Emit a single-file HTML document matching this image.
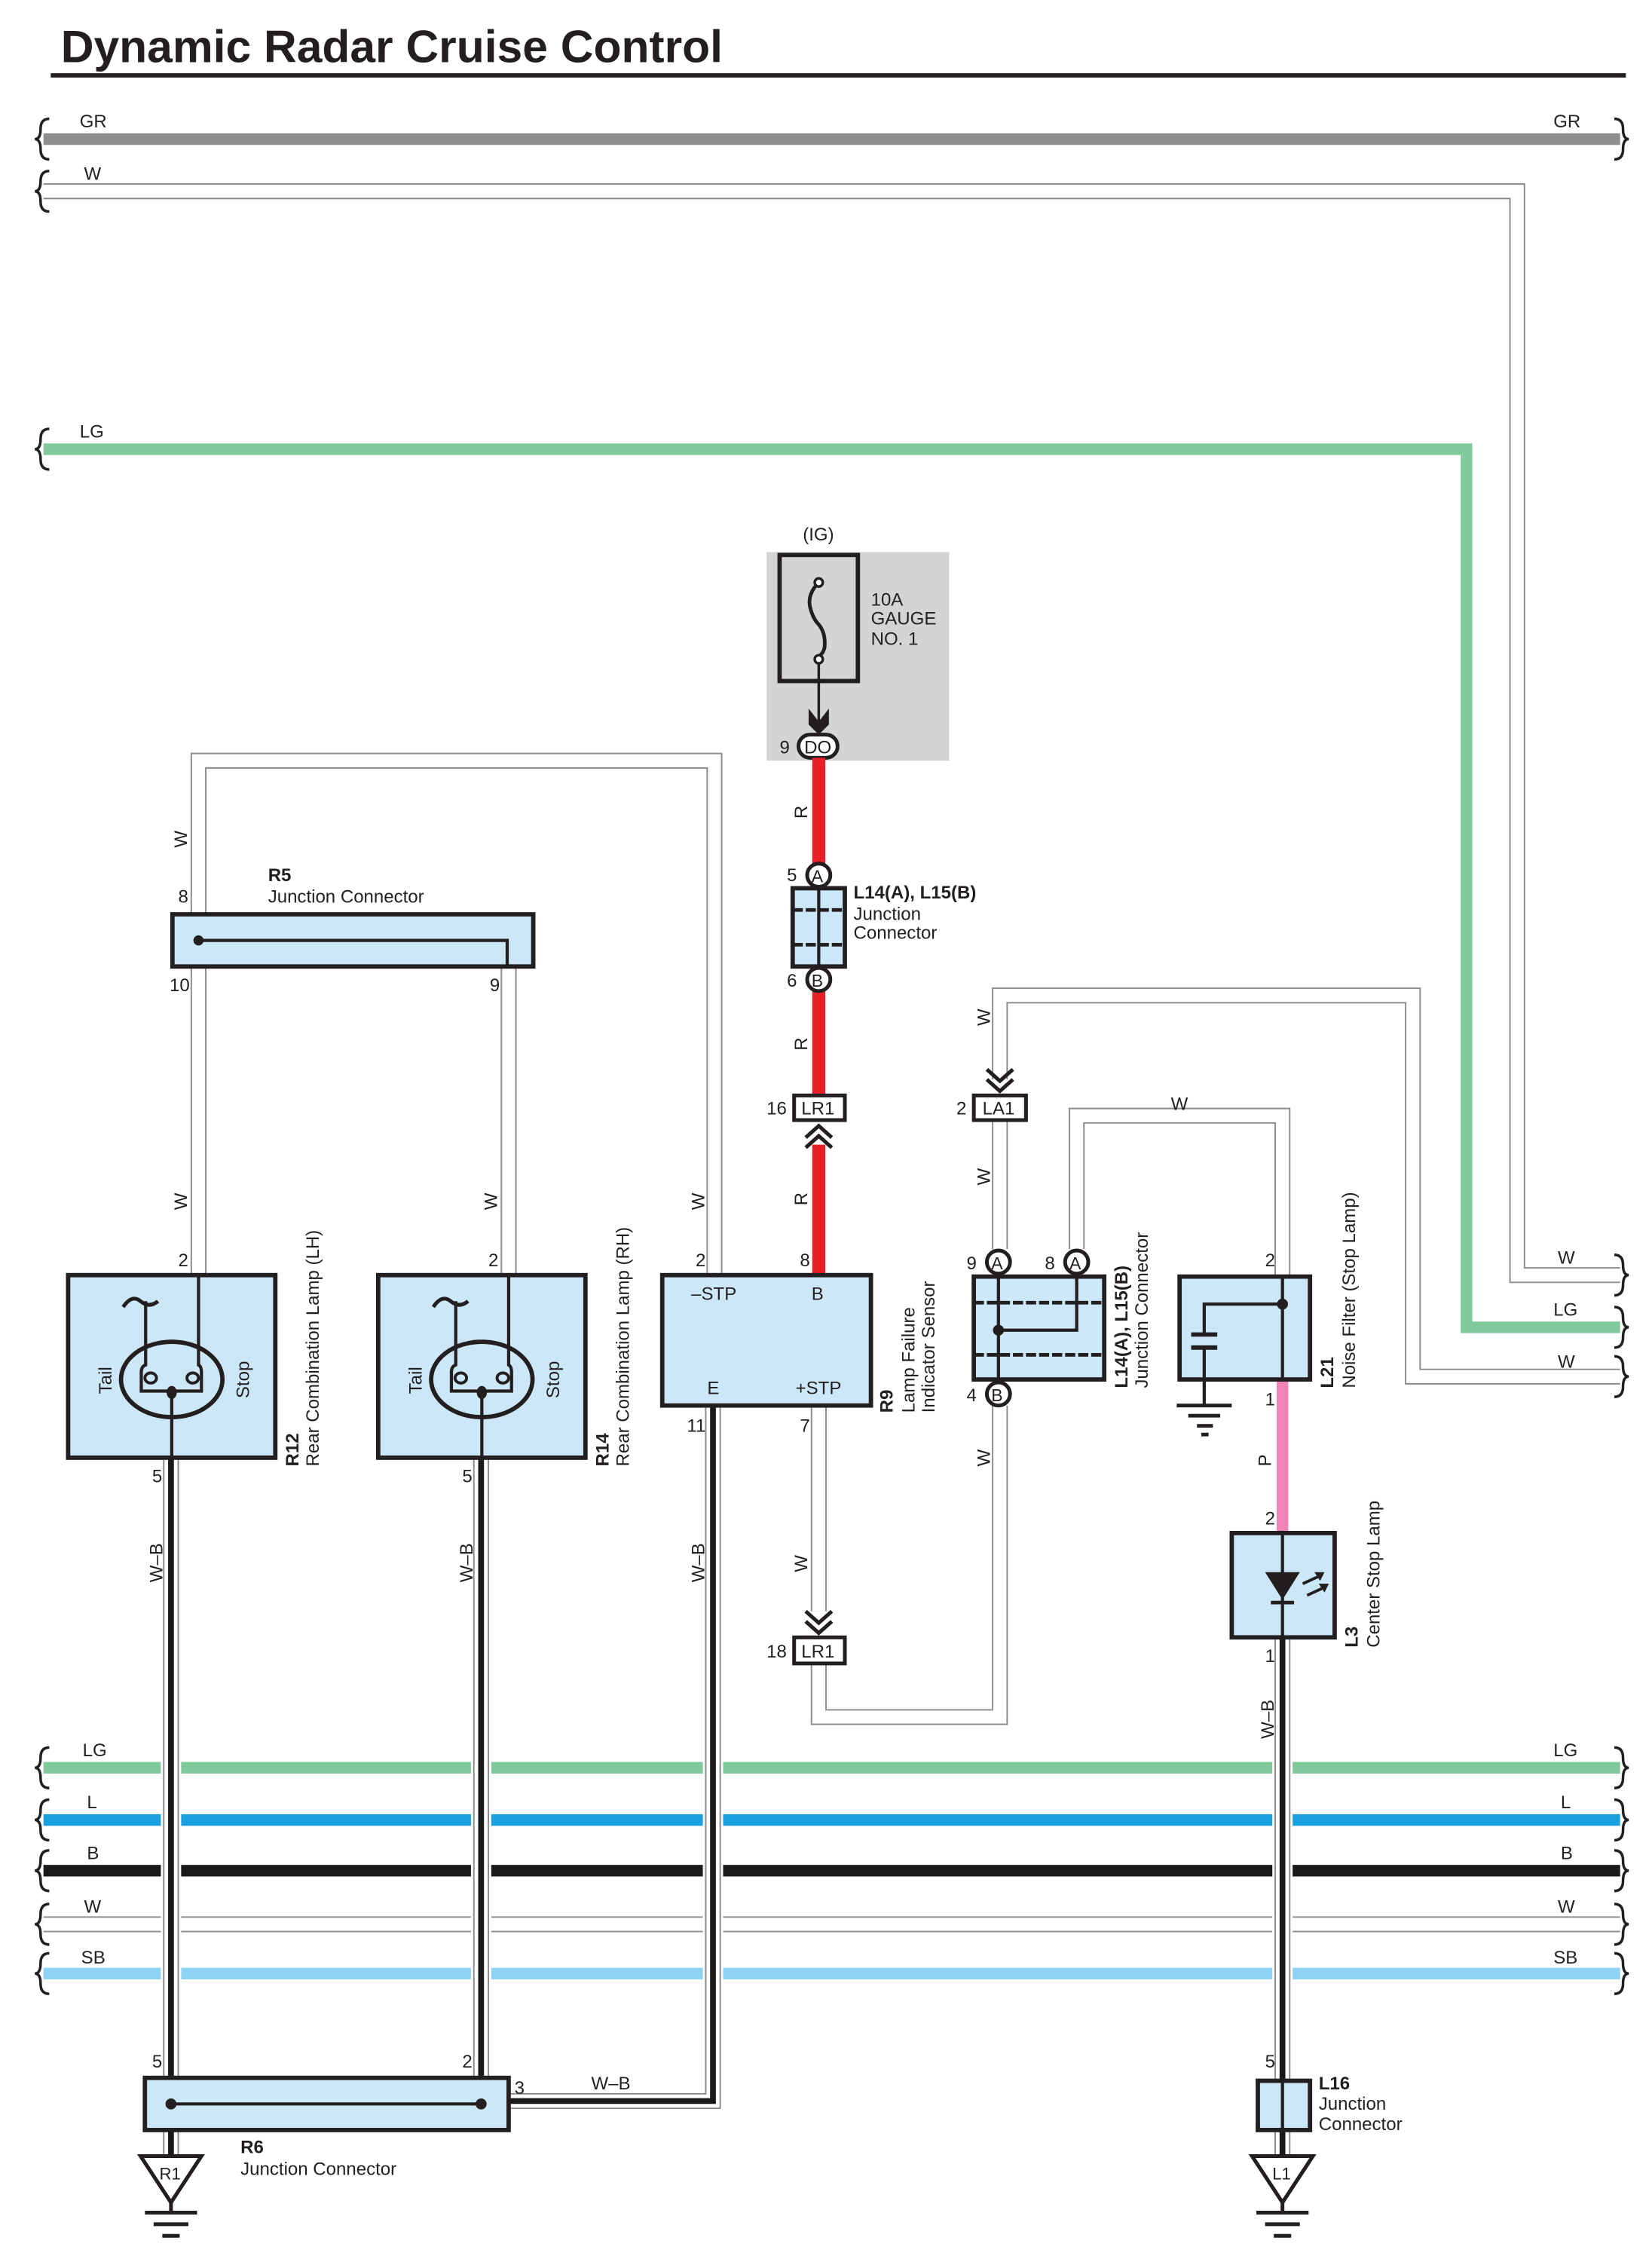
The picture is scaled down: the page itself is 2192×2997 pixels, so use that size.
<!DOCTYPE html>
<html><head><meta charset="utf-8"><style>
html,body{margin:0;padding:0;background:#fff}
svg{display:block}
text{font-family:"Liberation Sans",sans-serif;font-size:12.5px;fill:#231f20}
.b{font-weight:bold}
.w1{fill:none;stroke:#8a8a8a;stroke-width:11}
.w2{fill:none;stroke:#fff;stroke-width:9}
.wb{fill:none;stroke:#1a1a1a;stroke-width:4}
.gap{fill:none;stroke:#fff;stroke-width:14}
.box{fill:#cce8f8;stroke:#231f20;stroke-width:3}
.k{fill:none;stroke:#231f20;stroke-width:2.2}
.dash{fill:none;stroke:#231f20;stroke-width:2.5;stroke-dasharray:7 2}
.circ{fill:#fff;stroke:#231f20;stroke-width:2.6}
</style></head><body>
<svg width="2192" height="2997" viewBox="0 0 1140 1559" preserveAspectRatio="none" xmlns="http://www.w3.org/2000/svg">
<text x="42" y="43" class="b" style="font-size:31.5px">Dynamic Radar Cruise Control</text>
<line x1="35" y1="52" x2="1122" y2="52" stroke="#231f20" stroke-width="3"/>

<!-- top buses -->
<line x1="30" y1="96" x2="1118" y2="96" stroke="#8e8e90" stroke-width="8"/>
<text x="55" y="88">GR</text><text x="1072" y="88">GR</text>
<path class="w1" d="M30,132 H1047 V880 H1118"/><path class="w2" d="M30,132 H1047 V880 H1118"/>
<text x="58" y="124">W</text><text x="1075" y="872">W</text>
<path d="M30,310 H1012 V916 H1118" fill="none" stroke="#80c99a" stroke-width="8"/>
<text x="55" y="302">LG</text><text x="1072" y="908">LG</text>
<path class="w1" d="M1118,950 H975 V687 H690 V745"/><path class="w2" d="M1118,950 H975 V687 H690 V745"/>
<text x="1075" y="944">W</text>
<text transform="translate(683,708) rotate(-90)">W</text>

<!-- bottom buses -->
<line x1="30" y1="1220" x2="1118" y2="1220" stroke="#80c99a" stroke-width="8"/>
<line x1="30" y1="1256" x2="1118" y2="1256" stroke="#1aa0de" stroke-width="8"/>
<line x1="30" y1="1291" x2="1118" y2="1291" stroke="#1a1a1a" stroke-width="8"/>
<line x1="30" y1="1328" x2="1118" y2="1328" class="w1"/><line x1="30" y1="1328" x2="1118" y2="1328" class="w2"/>
<line x1="30" y1="1362" x2="1118" y2="1362" stroke="#8fd3f4" stroke-width="8"/>
<text x="57" y="1212">LG</text><text x="1072" y="1212">LG</text>
<text x="60" y="1248">L</text><text x="1077" y="1248">L</text>
<text x="60" y="1283">B</text><text x="1077" y="1283">B</text>
<text x="58" y="1320">W</text><text x="1075" y="1320">W</text>
<text x="56" y="1355">SB</text><text x="1072" y="1355">SB</text>

<!-- braces -->
<g fill="none" stroke="#231f20" stroke-width="1.8">
<path d="M34,82 q-6,0 -6,7 q0,7 -4,7 q4,0 4,7 q0,7 6,7"/>
<path d="M34,118 q-6,0 -6,7 q0,7 -4,7 q4,0 4,7 q0,7 6,7"/>
<path d="M34,296 q-6,0 -6,7 q0,7 -4,7 q4,0 4,7 q0,7 6,7"/>
<path d="M34,1206 q-6,0 -6,7 q0,7 -4,7 q4,0 4,7 q0,7 6,7"/>
<path d="M34,1242 q-6,0 -6,7 q0,7 -4,7 q4,0 4,7 q0,7 6,7"/>
<path d="M34,1277 q-6,0 -6,7 q0,7 -4,7 q4,0 4,7 q0,7 6,7"/>
<path d="M34,1314 q-6,0 -6,7 q0,7 -4,7 q4,0 4,7 q0,7 6,7"/>
<path d="M34,1348 q-6,0 -6,7 q0,7 -4,7 q4,0 4,7 q0,7 6,7"/>
<path d="M1114,82 q6,0 6,7 q0,7 4,7 q-4,0 -4,7 q0,7 -6,7"/>
<path d="M1114,866 q6,0 6,7 q0,7 4,7 q-4,0 -4,7 q0,7 -6,7"/>
<path d="M1114,902 q6,0 6,7 q0,7 4,7 q-4,0 -4,7 q0,7 -6,7"/>
<path d="M1114,936 q6,0 6,7 q0,7 4,7 q-4,0 -4,7 q0,7 -6,7"/>
<path d="M1114,1206 q6,0 6,7 q0,7 4,7 q-4,0 -4,7 q0,7 -6,7"/>
<path d="M1114,1242 q6,0 6,7 q0,7 4,7 q-4,0 -4,7 q0,7 -6,7"/>
<path d="M1114,1277 q6,0 6,7 q0,7 4,7 q-4,0 -4,7 q0,7 -6,7"/>
<path d="M1114,1314 q6,0 6,7 q0,7 4,7 q-4,0 -4,7 q0,7 -6,7"/>
<path d="M1114,1348 q6,0 6,7 q0,7 4,7 q-4,0 -4,7 q0,7 -6,7"/>
</g>

<!-- gaps for crossing wires -->
<path class="gap" d="M118,1200 V1380 M332,1200 V1380 M492,1200 V1380 M885,1200 V1380"/>

<!-- W wires -->
<path class="w1" d="M493,880 V525 H137 V631 M137,667 V880 M351,667 V880"/>
<path class="w2" d="M493,880 V525 H137 V631 M137,667 V880 M351,667 V880"/>
<path class="w1" d="M565,970 V1112 M565,1148 V1185 H690 V970 M690,773 V862 M743,862 V770 H885 V880"/>
<path class="w2" d="M565,970 V1112 M565,1148 V1185 H690 V970 M690,773 V862 M743,862 V770 H885 V880"/>
<!-- W-B wires -->
<path class="w1" d="M118,1006 V1434 M332,1006 V1434 M492,970 V1450 H351 M885,1130 V1436 M118,1470 V1488 M885,1470 V1488"/>
<path class="w2" d="M118,1006 V1434 M332,1006 V1434 M492,970 V1450 H351 M885,1130 V1436 M118,1470 V1488 M885,1470 V1488"/>
<path class="wb" d="M118,1006 V1434 M332,1006 V1434 M492,970 V1450 H351 M885,1130 V1436 M118,1470 V1488 M885,1470 V1488"/>

<!-- wire labels -->
<text transform="translate(129,585) rotate(-90)">W</text>
<text transform="translate(129,835) rotate(-90)">W</text>
<text transform="translate(343,835) rotate(-90)">W</text>
<text transform="translate(486,835) rotate(-90)">W</text>
<text transform="translate(112,1092) rotate(-90)">W–B</text>
<text transform="translate(326,1092) rotate(-90)">W–B</text>
<text transform="translate(486,1092) rotate(-90)">W–B</text>
<text transform="translate(879,1200) rotate(-90)">W–B</text>
<text transform="translate(557,1085) rotate(-90)">W</text>
<text transform="translate(683,1012) rotate(-90)">W</text>
<text transform="translate(683,818) rotate(-90)">W</text>
<text x="808" y="766">W</text>
<text x="408" y="1442">W–B</text>

<!-- fuse -->
<rect x="529" y="381" width="126" height="144" fill="#d3d4d6"/>
<rect x="538" y="383" width="54" height="87" fill="none" stroke="#231f20" stroke-width="3"/>
<path d="M565,402 q-8,8 -6,17 q2,8 6,12 q5,6 4,16 q-1,4 -4,6" fill="none" stroke="#231f20" stroke-width="2.5"/>
<circle cx="565" cy="402" r="2.8" fill="#fff" stroke="#231f20" stroke-width="1.8"/>
<circle cx="565" cy="455" r="2.8" fill="#fff" stroke="#231f20" stroke-width="1.8"/>
<line x1="565" y1="458" x2="565" y2="500" stroke="#231f20" stroke-width="1.8"/>
<path d="M558,489 L565,498 L572,489 L572,500 L565,507 L558,500 Z" fill="#231f20"/>
<rect x="551" y="507" width="27" height="16" rx="8" fill="#fff" stroke="#231f20" stroke-width="2.6"/>
<text x="555" y="520">DO</text><text x="538" y="520">9</text>
<text x="554" y="373">(IG)</text>
<text x="601" y="418">10A</text><text x="601" y="431">GAUGE</text><text x="601" y="445">NO. 1</text>

<!-- red wire -->
<path d="M565,523 V596 M565,684 V756 M565,790 V880" stroke="#e8202a" stroke-width="9" fill="none"/>
<text transform="translate(557,565) rotate(-90)">R</text>
<text transform="translate(557,725) rotate(-90)">R</text>
<text transform="translate(557,832) rotate(-90)">R</text>
<path d="M556,785 L565,777 L574,785 M556,792 L565,784 L574,792" fill="none" stroke="#231f20" stroke-width="2.6"/>

<!-- L14/L15 top junction -->
<rect x="547" y="613" width="36" height="54" class="box"/>
<line x1="547" y1="628" x2="583" y2="628" class="dash"/><line x1="547" y1="652" x2="583" y2="652" class="dash"/>
<line x1="565" y1="613" x2="565" y2="667" class="k"/>
<circle cx="565" cy="604" r="8" class="circ"/><text x="560" y="609" style="font-size:12px">A</text>
<circle cx="565" cy="676" r="8" class="circ"/><text x="560" y="681" style="font-size:12px">B</text>
<text x="543" y="608">5</text><text x="543" y="681">6</text>
<text x="589" y="620" class="b">L14(A), L15(B)</text><text x="589" y="635">Junction</text><text x="589" y="648">Connector</text>

<!-- LR1 16 -->
<rect x="548" y="756" width="35" height="17" fill="#fff" stroke="#231f20" stroke-width="2.6"/>
<text x="553" y="769">LR1</text><text x="529" y="769">16</text>
<!-- LR1 18 -->
<path d="M556,1112 L565,1120 L574,1112 M556,1119 L565,1127 L574,1119" fill="none" stroke="#231f20" stroke-width="2.6"/>
<rect x="548" y="1130" width="35" height="18" fill="#fff" stroke="#231f20" stroke-width="2.6"/>
<text x="553" y="1144">LR1</text><text x="529" y="1144">18</text>
<!-- LA1 -->
<path d="M681,738 L690,746 L699,738 M681,745 L690,753 L699,745" fill="none" stroke="#231f20" stroke-width="2.6"/>
<rect x="672" y="756" width="36" height="17" fill="#fff" stroke="#231f20" stroke-width="2.6"/>
<text x="678" y="769">LA1</text><text x="660" y="769">2</text>

<!-- R5 -->
<rect x="119" y="631" width="249" height="36" class="box"/>
<path d="M137,649 H350 V667" class="k"/><circle cx="137" cy="649" r="3.5" fill="#231f20"/>
<text x="185" y="608" class="b">R5</text><text x="185" y="623">Junction Connector</text>
<text x="123" y="623">8</text><text x="117" y="684">10</text><text x="338" y="684">9</text>

<!-- R12 / R14 -->
<g id="lamp">
<rect x="47" y="880" width="143" height="126" class="box"/>
<ellipse cx="118.5" cy="952" rx="35" ry="26" fill="none" stroke="#231f20" stroke-width="3"/>
<path d="M85,902 q6,-9 12,-4 q6,5 12,0" fill="none" stroke="#231f20" stroke-width="2.6"/>
<path d="M100.5,898 V942 q-3,1 -3,5 V960 H139 V947 q0,-4 -2,-5 V880" class="k"/>
<ellipse cx="104" cy="951" rx="4" ry="3.5" fill="none" stroke="#231f20" stroke-width="2"/>
<ellipse cx="133" cy="951" rx="4" ry="3.5" fill="none" stroke="#231f20" stroke-width="2"/>
<ellipse cx="118.5" cy="961" rx="3.5" ry="4.5" fill="#231f20"/>
<line x1="118.5" y1="961" x2="118.5" y2="1006" class="k"/>
<text transform="translate(77,962) rotate(-90)">Tail</text>
<text transform="translate(172,965) rotate(-90)">Stop</text>
</g>
<use href="#lamp" x="214"/>
<text x="123" y="874">2</text><text x="337" y="874">2</text>
<text x="105" y="1023">5</text><text x="319" y="1023">5</text>
<text transform="translate(206,1012) rotate(-90)" class="b">R12</text>
<text transform="translate(220,1012) rotate(-90)">Rear Combination Lamp (LH)</text>
<text transform="translate(420,1012) rotate(-90)" class="b">R14</text>
<text transform="translate(434,1012) rotate(-90)">Rear Combination Lamp (RH)</text>

<!-- R9 -->
<rect x="457" y="880" width="144" height="90" class="box"/>
<text x="477" y="897">–STP</text><text x="560" y="897">B</text>
<text x="488" y="962">E</text><text x="549" y="962">+STP</text>
<text x="480" y="874">2</text><text x="552" y="874">8</text>
<text x="474" y="988">11</text><text x="552" y="988">7</text>
<text transform="translate(616,975) rotate(-90)" class="b">R9</text>
<text transform="translate(631,975) rotate(-90)">Lamp Failure</text>
<text transform="translate(645,975) rotate(-90)">Indicator Sensor</text>

<!-- L14/L15 right -->
<rect x="672" y="881" width="90" height="71" class="box"/>
<line x1="672" y1="899" x2="762" y2="899" class="dash"/><line x1="672" y1="935" x2="762" y2="935" class="dash"/>
<path d="M689,881 V952 M689,918 H743 V881" class="k"/><circle cx="689" cy="918" r="3.8" fill="#231f20"/>
<circle cx="689" cy="871" r="8" class="circ"/><text x="684" y="876" style="font-size:12px">A</text>
<circle cx="743" cy="871" r="8" class="circ"/><text x="738" y="876" style="font-size:12px">A</text>
<circle cx="689" cy="962" r="8" class="circ"/><text x="684" y="967" style="font-size:12px">B</text>
<text x="667" y="876">9</text><text x="721" y="876">8</text><text x="667" y="967">4</text>
<text transform="translate(778,958) rotate(-90)" class="b">L14(A), L15(B)</text>
<text transform="translate(792,958) rotate(-90)">Junction Connector</text>

<!-- L21 -->
<path d="M885,952 V1058" stroke="#f183b6" stroke-width="8" fill="none"/>
<text transform="translate(877,1012) rotate(-90)">P</text>
<rect x="814" y="881" width="90" height="71" class="box"/>
<path d="M885,881 V952 M885,900 H831 V921 M831,931 V970" class="k"/><circle cx="885" cy="900" r="3.8" fill="#231f20"/>
<path d="M822,921 H840 M822,930 H840" stroke="#231f20" stroke-width="3"/>
<path d="M812,970 H850 M820,977 H842 M826,984 H837 M829,990 H834" stroke="#231f20" stroke-width="2.5"/>
<text x="873" y="874">2</text><text x="873" y="970">1</text>
<text transform="translate(920,958) rotate(-90)" class="b">L21</text>
<text transform="translate(935,958) rotate(-90)">Noise Filter (Stop Lamp)</text>

<!-- L3 -->
<rect x="850" y="1058" width="71" height="72" class="box"/>
<line x1="885" y1="1058" x2="885" y2="1130" class="k"/>
<path d="M873,1085 H897 L885,1104 Z" fill="#231f20"/>
<path d="M877,1106 H893" stroke="#231f20" stroke-width="2.5"/>
<path d="M899,1093 L912,1087 M902,1101 L915,1095" stroke="#231f20" stroke-width="2"/>
<path d="M914,1085 L907,1085 L911,1091 Z M917,1093 L910,1093 L914,1099 Z" fill="#231f20"/>
<text x="873" y="1052">2</text><text x="873" y="1147">1</text>
<text transform="translate(937,1137) rotate(-90)" class="b">L3</text>
<text transform="translate(952,1137) rotate(-90)">Center Stop Lamp</text>

<!-- R6 -->
<rect x="100" y="1434" width="251" height="36" class="box"/>
<path d="M118,1452 H332" class="k"/><circle cx="118" cy="1452" r="3.8" fill="#231f20"/><circle cx="332" cy="1452" r="3.8" fill="#231f20"/>
<text x="105" y="1427">5</text><text x="319" y="1427">2</text><text x="355" y="1445">3</text>
<text x="166" y="1486" class="b">R6</text><text x="166" y="1501">Junction Connector</text>

<!-- L16 -->
<rect x="868" y="1436" width="36" height="34" class="box"/>
<line x1="885" y1="1436" x2="885" y2="1470" class="k"/>
<text x="873" y="1427">5</text>
<text x="910" y="1442" class="b">L16</text><text x="910" y="1456">Junction</text><text x="910" y="1470">Connector</text>

<!-- grounds -->
<g fill="none" stroke="#231f20" stroke-width="2.6">
<path d="M97,1488 H139 L118,1520 Z"/><path d="M864,1488 H906 L885,1520 Z"/>
<path d="M118,1520 V1527 M100,1527 H136 M106,1535 H130 M112,1543 H124"/>
<path d="M885,1520 V1527 M867,1527 H903 M873,1535 H897 M879,1543 H891"/>
</g>
<text x="110" y="1504" style="font-size:11.5px">R1</text>
<text x="878" y="1504" style="font-size:11.5px">L1</text>
</svg>
</body></html>
